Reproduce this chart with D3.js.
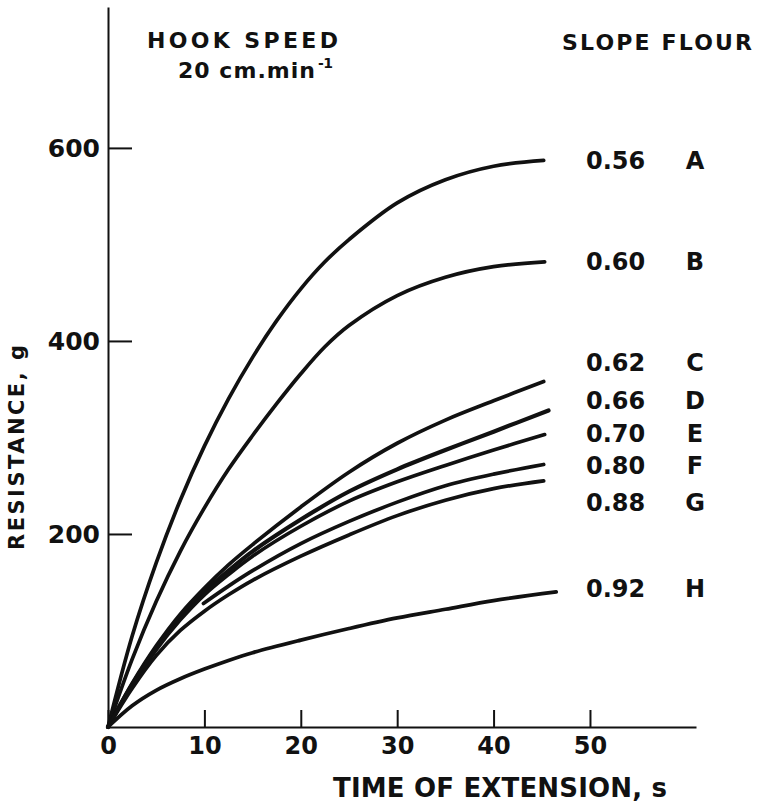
<!DOCTYPE html>
<html>
<head>
<meta charset="utf-8">
<script src="https://cdn.jsdelivr.net/npm/d3@7"></script>
<style>
body { margin: 0; background: #fff; }
svg text { font-family: "DejaVu Sans", sans-serif; font-weight: bold; fill: #111; }
</style>
</head>
<body>
<div id="chart"></div>
<script>
// data: [time s, resistance g]
var flours = ['A', 'B', 'C', 'D', 'E', 'F', 'G', 'H']
var slopes = ['0.56', '0.60', '0.62', '0.66', '0.70', '0.80', '0.88', '0.92']
var curveA = [[0,0],[2.5,94],[5,170],[7.5,235],[10,291],[12.5,340],[15,383],[17.5,421],[20,454],[22.5,482],[25,505],[30,543],[35,567],[40,581],[45.2,587]]
var curveB = [[0,0],[2.5,70],[5,130],[7.5,182],[10,227],[12.5,267],[15,302],[17.5,335],[20,366],[22.5,394],[25,416],[30,447],[35,466],[40,477],[45.3,482]]
var curveC = [[0,0],[2.5,45],[5,84],[7.5,117],[10,144],[12.5,168],[15,189],[20,228],[25,264],[30,294],[35,318],[40,338],[45.2,358]]
var curveD = [[0,0],[2.5,44],[5,82],[7.5,114],[10,140],[12.5,162],[15,182],[20,215],[25,244],[30,267],[35,287],[40,306],[45.7,328]]
var curveE = [[0,0],[2.5,43],[5,80],[7.5,111],[10,137],[12.5,158],[15,177],[20,208],[25,234],[30,254],[35,271],[40,287],[45.3,303]]
var curveF = [[9.9,128],[12.5,146],[15,162],[20,190],[25,213],[30,233],[35,250],[40,262],[45.2,272]]
var curveG = [[0,0],[2.5,40],[5,74],[7.5,100],[10,120],[12.5,137],[15,152],[20,177],[25,199],[30,219],[35,235],[40,247],[45.2,255]]
var curveH = [[0,0],[2.5,22],[5,38],[7.5,50],[10,60],[12.5,69],[15,77],[20,90],[25,102],[30,113],[35,122],[40,131],[46.5,140]]
var curves = [curveA, curveB, curveC, curveD, curveE, curveF, curveG, curveH]
// resistance level where each legend row sits
var labelRes = [587, 482, 378, 338, 304, 271, 233, 144]
var xTicks = [0, 10, 20, 30, 40, 50]
var yTicks = [200, 400, 600]

var width = 759, height = 804
var svg = d3.select('#chart').append('svg')
	.attr('width', width)
	.attr('height', height)

var x = d3.scaleLinear().domain([0, 61]).range([108, 696])
var y = d3.scaleLinear().domain([0, 746]).range([727, 7])

// axes -- ticks point inward
var xAxis = svg.append('g')
	.attr('transform', 'translate(0,' + y(0) + ')')
	.call(d3.axisBottom(x).tickValues(xTicks).tickSizeInner(-17).tickSizeOuter(0).tickPadding(10).tickFormat(d3.format('d')))
var yAxis = svg.append('g')
	.attr('transform', 'translate(' + x(0) + ',0)')
	.call(d3.axisLeft(y).tickValues(yTicks).tickSizeInner(-24).tickSizeOuter(0).tickPadding(8).tickFormat(d3.format('d')))

;[xAxis, yAxis].forEach(function(ax) {
	ax.attr('color', '#111')
	ax.select('.domain').attr('stroke-width', 2)
	ax.selectAll('.tick line').attr('stroke-width', 2)
	ax.selectAll('.tick text').style('font-size', '24px')
})
yAxis.selectAll('.tick text').style('font-size', '25px').attr('dy', '0.36em')

// curves
var line = d3.line()
	.x(function(d) { return x(d[0]) })
	.y(function(d) { return y(d[1]) })
	.curve(d3.curveCatmullRom.alpha(0.5))

svg.selectAll('.curve').data(curves).enter().append('path')
	.attr('class', 'curve')
	.attr('d', line)
	.attr('fill', 'none')
	.attr('stroke', '#111')
	.attr('stroke-width', function(d, i) { return i == 3 ? 4.2 : 3.7 })
	.attr('stroke-linecap', 'round')

// legend rows
svg.selectAll('.slope').data(slopes).enter().append('text')
	.attr('class', 'slope')
	.attr('x', 586)
	.attr('y', function(d, i) { return y(labelRes[i]) + 8.5 })
	.style('font-size', '24px')
	.text(function(d) { return d })
svg.selectAll('.flour').data(flours).enter().append('text')
	.attr('class', 'flour')
	.attr('x', 695)
	.attr('y', function(d, i) { return y(labelRes[i]) + 8.5 })
	.attr('text-anchor', 'middle')
	.style('font-size', '24px')
	.text(function(d) { return d })

// titles
function label(txt, px, py, size, len) {
	return svg.append('text')
		.attr('x', px).attr('y', py)
		.attr('textLength', len).attr('lengthAdjust', 'spacing')
		.style('font-size', size + 'px')
		.text(txt)
}
label('HOOK  SPEED', 147, 48, 22, 191)
label('20 cm.min', 178, 78, 22, 137)
label('-1', 318, 68, 14, 15)
label('SLOPE  FLOUR', 562, 50, 22, 190)
label('TIME  OF  EXTENSION, s', 333, 797, 26, 334)

svg.append('text')
	.attr('transform', 'translate(24,550) rotate(-90)')
	.attr('textLength', 205).attr('lengthAdjust', 'spacing')
	.style('font-size', '21px')
	.text('RESISTANCE, g')
</script>
</body>
</html>
